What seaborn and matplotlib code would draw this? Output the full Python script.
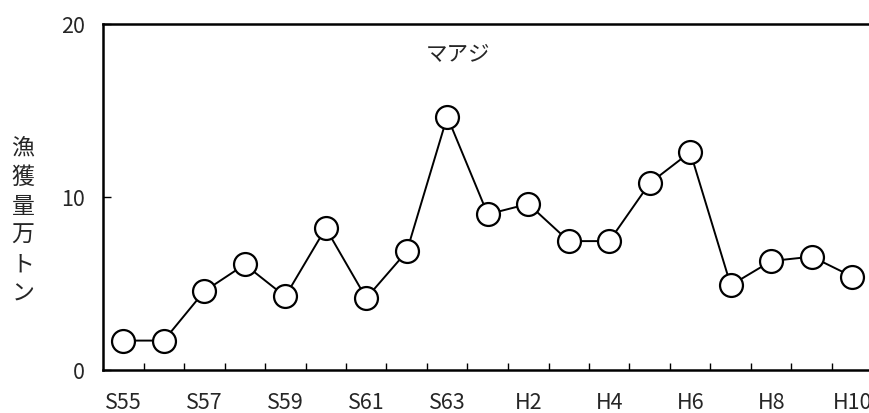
import numpy as np
import pandas as pd
import seaborn as sns
import matplotlib.pyplot as plt

# Data
years = ["S55", "S56", "S57", "S58", "S59", "S60", "S61", "S62", "S63",
         "H1", "H2", "H3", "H4", "H5", "H6", "H7", "H8", "H9", "H10"]
catch = [1.7, 1.7, 4.55, 6.1, 4.25, 8.2, 4.15, 6.85, 14.65,
         9.0, 9.6, 7.45, 7.45, 10.8, 12.6, 4.9, 6.3, 6.55, 5.4]
title = "マアジ"
ylabel = "漁獲量万トン"

sns.set_theme(style="white")
plt.rcParams['font.family'] = ['Noto Sans CJK JP', 'DejaVu Sans']
fontsize = 15.5

fig = plt.figure(figsize=(8.69, 4.14), dpi=100)
W, H = 869, 414
x0, x1 = 103, 872.5
y0, y1 = 25, 371
ax = fig.add_axes([x0 / W, 1 - y1 / H, (x1 - x0) / W, (y1 - y0) / H])

df = pd.DataFrame({"pos": np.arange(len(years)), "catch": catch})
sns.lineplot(data=df, x="pos", y="catch", ax=ax, color="black", linewidth=1.4,
             marker="o", markersize=16.5, markerfacecolor="white",
             markeredgecolor="black", markeredgewidth=1.6)

ax.set_xlim(-0.5, len(years) - 0.5)
ax.set_ylim(0, 20)

# x: tick marks at category boundaries, labels every other year
ax.set_xticks(np.arange(0.5, len(years) - 0.5), minor=True)
ax.set_xticks(np.arange(0, len(years), 2))
ax.set_xticklabels(years[::2], fontsize=fontsize)
ax.tick_params(axis="x", which="major", length=0, pad=15)
ax.tick_params(axis="x", which="minor", direction="in", length=5, width=1,
               color="black", bottom=True)

ax.set_yticks([0, 10, 20])
ax.set_yticklabels(["0", "10", "20"], fontsize=fontsize)
ax.tick_params(axis="y", direction="in", length=6, width=1, color="black",
               left=True, pad=13)

for side in ["left", "bottom", "top"]:
    ax.spines[side].set_visible(True)
    ax.spines[side].set_color("black")
    ax.spines[side].set_linewidth(1.8)
ax.spines["right"].set_visible(False)

ax.set_xlabel("")
ax.set_ylabel("")
ax.text(0.461, 0.913, title, transform=ax.transAxes, ha="center", va="center",
        fontsize=fontsize)

fig.text(23 / W, 1 - 221 / H, "\n".join(ylabel), ha="center", va="center",
         fontsize=16.5, linespacing=1.35)

fig.savefig("out.png", dpi=100)
